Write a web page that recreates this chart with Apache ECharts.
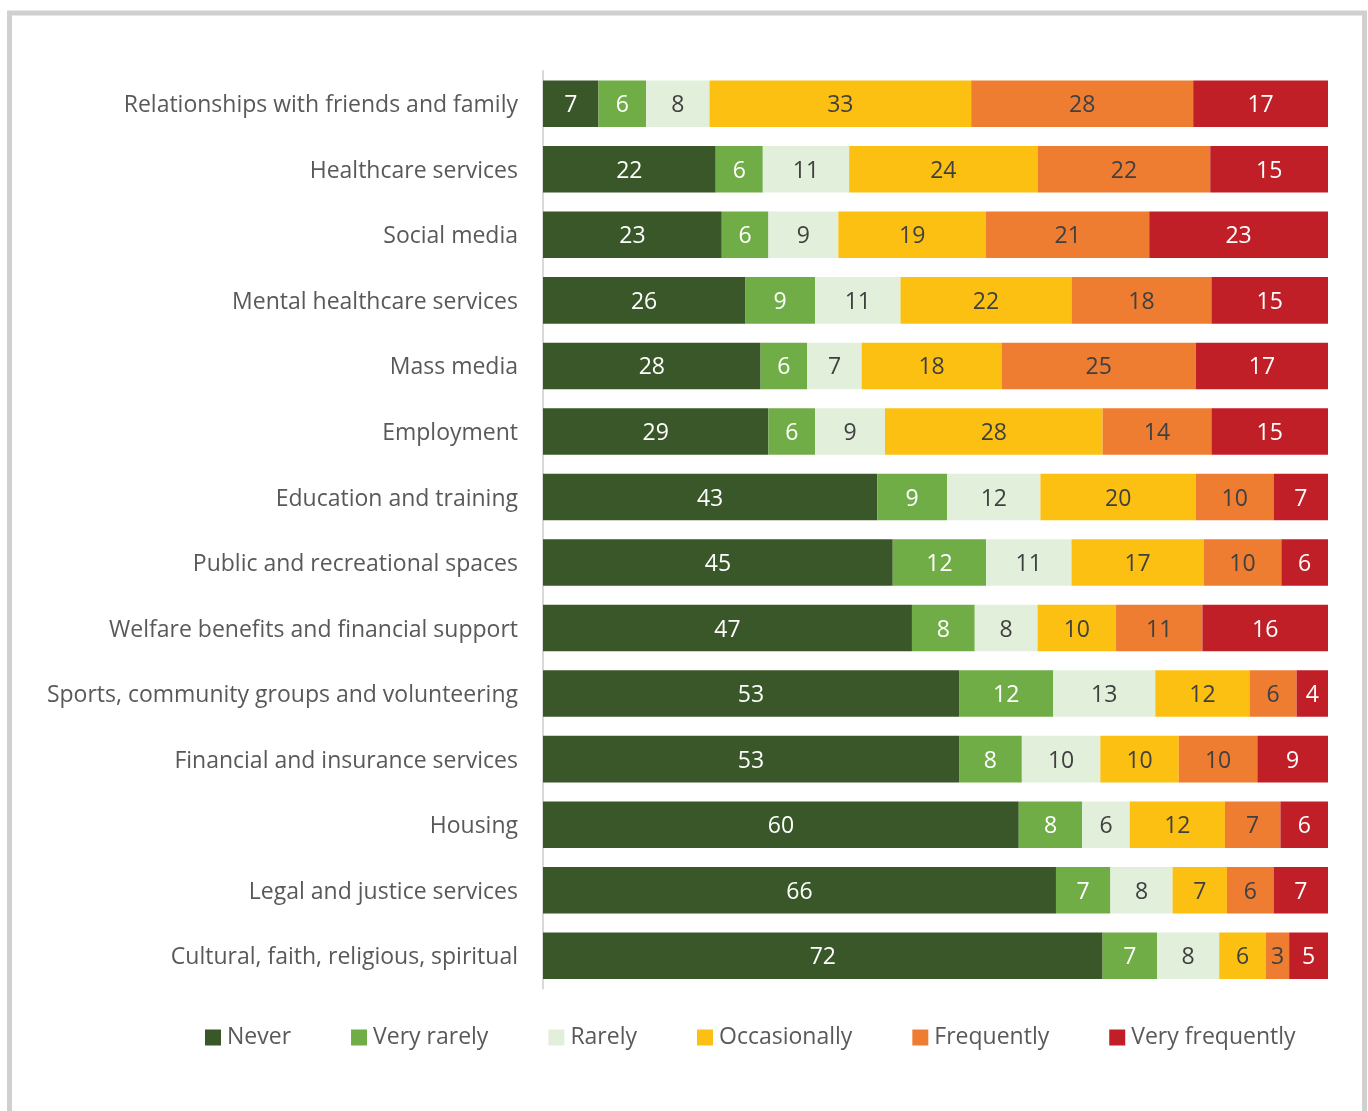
<!DOCTYPE html>
<html>
<head>
<meta charset="utf-8">
<script src="https://cdn.jsdelivr.net/npm/echarts@6/dist/echarts.min.js"></script>
<style>
  html, body { margin: 0; padding: 0; background: #ffffff; }
  #chart { width: 1368px; height: 1111px; }
</style>
</head>
<body>
<div id="chart"></div>
<script>
// Areas of life, top to bottom
const categories = [
  'Relationships with friends and family',
  'Healthcare services',
  'Social media',
  'Mental healthcare services',
  'Mass media',
  'Employment',
  'Education and training',
  'Public and recreational spaces',
  'Welfare benefits and financial support',
  'Sports, community groups and volunteering',
  'Financial and insurance services',
  'Housing',
  'Legal and justice services',
  'Cultural, faith, religious, spiritual'
];

// Response frequency levels (legend order)
const levels = ['Never', 'Very rarely', 'Rarely', 'Occasionally', 'Frequently', 'Very frequently'];

// Percentages per level, one value per category
const never          = [7, 22, 23, 26, 28, 29, 43, 45, 47, 53, 53, 60, 66, 72];
const veryRarely     = [6, 6, 6, 9, 6, 6, 9, 12, 8, 12, 8, 8, 7, 7];
const rarely         = [8, 11, 9, 11, 7, 9, 12, 11, 8, 13, 10, 6, 8, 8];
const occasionally   = [33, 24, 19, 22, 18, 28, 20, 17, 10, 12, 10, 12, 7, 6];
const frequently     = [28, 22, 21, 18, 25, 14, 10, 10, 11, 6, 10, 7, 6, 3];
const veryFrequently = [17, 15, 23, 15, 17, 15, 7, 6, 16, 4, 9, 6, 7, 5];

const seriesValues = [never, veryRarely, rarely, occasionally, frequently, veryFrequently];
const colors = ['#3a5729', '#70ad47', '#e2efda', '#fcc013', '#ee7d31', '#c11f27'];
const labelColors = ['#ffffff', '#ffffff', '#404040', '#404040', '#404040', '#ffffff'];

// Each row is shown as a 100% stacked bar
const rowTotals = categories.map((_, i) => seriesValues.reduce((s, arr) => s + arr[i], 0));

const FONT = '"Open Sans", "Noto Sans", sans-serif';

const series = levels.map((name, k) => ({
  name: name,
  type: 'bar',
  stack: 'total',
  barCategoryGap: '29%',
  itemStyle: { color: colors[k] },
  label: {
    show: true,
    position: 'inside',
    offset: [0, 2],
    color: labelColors[k],
    fontFamily: FONT,
    fontSize: 23,
    formatter: p => String(seriesValues[k][p.dataIndex])
  },
  emphasis: { disabled: true },
  data: seriesValues[k].map((v, i) => v / rowTotals[i] * 100)
}));

const chart = echarts.init(document.getElementById('chart'), null, { renderer: 'canvas' });
chart.setOption({
  animation: false,
  backgroundColor: '#ffffff',
  graphic: [{
    type: 'rect',
    shape: { x: 9.5, y: 13, width: 1355, height: 1120 },
    style: { fill: 'none', stroke: '#d0d0d0', lineWidth: 5 },
    silent: true
  }],
  grid: { left: 543, top: 71, width: 785, height: 917.5, containLabel: false },
  xAxis: {
    type: 'value',
    min: 0,
    max: 100,
    show: false
  },
  yAxis: {
    type: 'category',
    inverse: true,
    data: categories,
    axisLine: { show: true, lineStyle: { color: '#d9d9d9', width: 2 } },
    axisTick: { show: false },
    axisLabel: {
      margin: 25,
      color: '#595959',
      fontFamily: FONT,
      fontSize: 23,
      formatter: v => '{c|' + v + '}',
      rich: {
        c: { color: '#595959', fontFamily: FONT, fontSize: 23, padding: [4, 0, 0, 0] }
      }
    }
  },
  legend: {
    left: 200,
    top: 1021,
    itemWidth: 16,
    itemHeight: 16,
    itemGap: 60,
    icon: 'rect',
    selectedMode: false,
    data: levels,
    textStyle: { color: '#595959', fontFamily: FONT, fontSize: 23, padding: [0, 0, 0, 1] }
  },
  series: series
});
</script>
</body>
</html>
